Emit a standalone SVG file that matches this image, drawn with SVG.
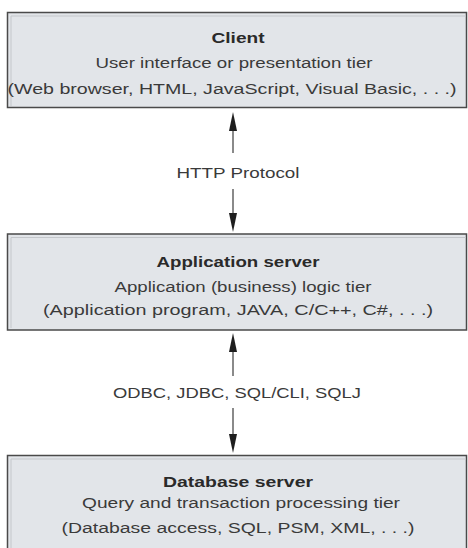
<svg xmlns="http://www.w3.org/2000/svg" width="468" height="548" viewBox="0 0 468 548">
<style>
.box{fill:#e2e5e9;stroke:#4a4a4a;stroke-width:1.5}
.inner{fill:none;stroke:#c4c7cb;stroke-width:1}
.t{font-family:"Liberation Sans",Arial,sans-serif;font-size:15.5px;fill:#3a3a3a;text-anchor:middle}
.b{font-weight:bold;fill:#2a2a2a}
.line{stroke:#8a8a8a;stroke-width:2;fill:none}
.head{fill:#1e1e1e}
</style>
<rect width="468" height="548" fill="#ffffff"/>
<g id="client">
<rect class="box" x="7.5" y="12.5" width="459" height="95"/>
<path class="inner" d="M11 106V16H466"/>
<text class="t b" x="238" y="43" textLength="53" lengthAdjust="spacingAndGlyphs">Client</text>
<text class="t" x="234" y="68" textLength="277" lengthAdjust="spacingAndGlyphs">User interface or presentation tier</text>
<text class="t" x="232" y="94" textLength="449" lengthAdjust="spacingAndGlyphs">(Web browser, HTML, JavaScript, Visual Basic, . . .)</text>
</g>
<g id="appserver">
<rect class="box" x="7.5" y="234" width="459" height="96"/>
<path class="inner" d="M11 328V237.5H466"/>
<text class="t b" x="238" y="267" textLength="163" lengthAdjust="spacingAndGlyphs">Application server</text>
<text class="t" x="243" y="292" textLength="257" lengthAdjust="spacingAndGlyphs">Application (business) logic tier</text>
<text class="t" x="238" y="315" textLength="390" lengthAdjust="spacingAndGlyphs">(Application program, JAVA, C/C++, C#, . . .)</text>
</g>
<g id="dbserver">
<rect class="box" x="7.5" y="455.5" width="459" height="110"/>
<path class="inner" d="M11 560V459H466"/>
<text class="t b" x="238" y="487" textLength="150" lengthAdjust="spacingAndGlyphs">Database server</text>
<text class="t" x="241" y="508" textLength="318" lengthAdjust="spacingAndGlyphs">Query and transaction processing tier</text>
<text class="t" x="238" y="533" textLength="353" lengthAdjust="spacingAndGlyphs">(Database access, SQL, PSM, XML, . . .)</text>
</g>
<g id="connectors">
<line class="line" x1="233" y1="128" x2="233" y2="153"/>
<polygon class="head" points="233,112 229,131 237,131"/>
<line class="line" x1="233" y1="189" x2="233" y2="215"/>
<polygon class="head" points="233,232 229,213 237,213"/>
<text class="t" x="238" y="178" textLength="123" lengthAdjust="spacingAndGlyphs">HTTP Protocol</text>
<line class="line" x1="233" y1="350" x2="233" y2="376"/>
<polygon class="head" points="233,333 229,352 237,352"/>
<line class="line" x1="233" y1="408" x2="233" y2="436"/>
<polygon class="head" points="233,453 229,434 237,434"/>
<text class="t" x="237" y="398" textLength="248" lengthAdjust="spacingAndGlyphs">ODBC, JDBC, SQL/CLI, SQLJ</text>
</g>
</svg>
